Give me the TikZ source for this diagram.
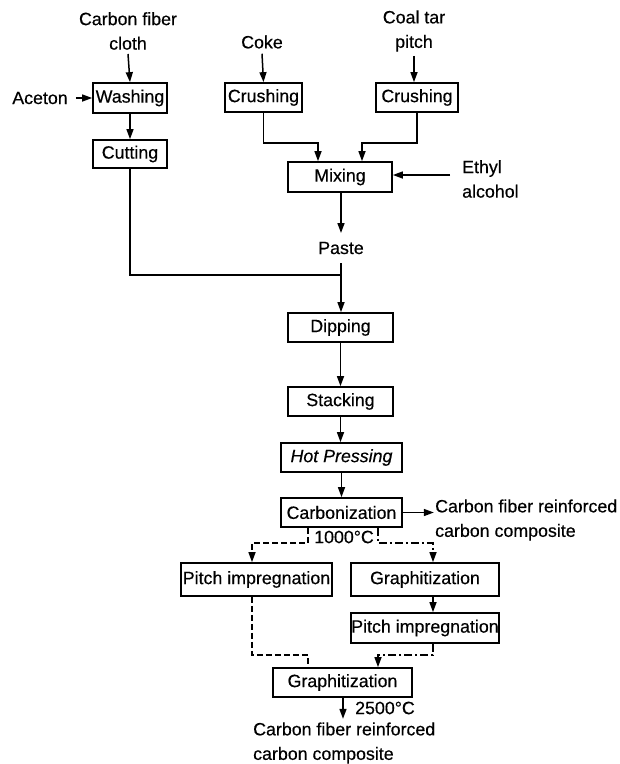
\documentclass[tikz,border=0pt]{standalone}
\usepackage{fontspec}
\setmainfont{Liberation Sans}[FakeBold=0.4]
\usetikzlibrary{arrows.meta}
\begin{document}
\begin{tikzpicture}[x=1pt,y=-1pt,
  every node/.style={font=\fontsize{17.8}{24.5}\selectfont},
  box/.style={draw,line width=1.7pt,inner sep=0pt,minimum width=#1},
  lbl/.style={inner sep=0pt},
  ln/.style={line width=1.5pt},
  arr/.style={ln,-{Triangle[length=10pt,width=7pt]}},
  dsh/.style={dash pattern=on 6pt off 3pt},
  dsd/.style={dash pattern=on 8pt off 3pt on 2pt off 3pt}]
\useasboundingbox (0,0) rectangle (620,764);
% sources
\node[lbl,align=center] (cf) at (128,31) {Carbon fiber\\cloth};
\node[lbl] (aceton) at (40,98) {Aceton};
\node[box=74,minimum height=30] (washing) at (130,98) {Washing};
\node[box=74,minimum height=28] (cutting) at (130,154) {Cutting};
\node[lbl] (coke) at (262,42) {Coke};
\node[box=77,minimum height=29] (crush1) at (263.5,97.5) {Crushing};
\node[lbl,align=center] (coal) at (414,31) {Coal tar\\pitch};
\node[box=82,minimum height=29] (crush2) at (417,97.5) {Crushing};
\node[box=104,minimum height=30] (mixing) at (340,177) {Mixing};
\node[lbl,align=left,anchor=west] (ethyl) at (462,179) {Ethyl\\alcohol};
\node[lbl] (paste) at (341,248) {Paste};
\node[box=105,minimum height=29] (dipping) at (340.5,327.5) {Dipping};
\node[box=105,minimum height=29] (stacking) at (340.5,401.5) {Stacking};
\node[box=121,minimum height=29] (hot) at (341.5,457.5) {\textit{Hot Pressing}};
\node[box=121,minimum height=29] (carb) at (341.5,512.5) {Carbonization};
\node[lbl,align=left,anchor=west] (cfrc1) at (435,520) {Carbon fiber reinforced\\carbon composite};
\node[lbl] (t1000) at (344,537) {1000°C};
\node[box=151,minimum height=33] (pitch1) at (256.5,579.5) {Pitch impregnation};
\node[box=148,minimum height=33] (graph1) at (425,579.5) {Graphitization\hspace{8pt}};
\node[box=146,minimum height=30] (pitch2) at (425,628) {Pitch impregnation};
\node[box=139,minimum height=29] (graph2) at (342.5,682.5) {Graphitization};
\node[lbl,anchor=west] (t2500) at (355,708) {2500°C};
\node[lbl,align=left,anchor=west] (cfrc2) at (253,743) {Carbon fiber reinforced\\carbon composite};
% connectors
\coordinate (m1) at (318,143);
\coordinate (m2) at (362,143);
\coordinate (j) at (341,275);
\coordinate (pa) at (341,233);
\coordinate (pb) at (341,263);
\coordinate (d1) at (308,543);
\coordinate (d2) at (252,543);
\coordinate (e1) at (378,543);
\coordinate (e2) at (433,543);
\coordinate (f1) at (433,655);
\coordinate (f2) at (378,655);
\coordinate (g1) at (252,655);
\coordinate (g2) at (308,655);
\coordinate (ea) at (450,175);
\draw[arr] (cf.south) ++(0,4) -- (washing.north);
\draw[arr] (aceton.east) ++(8,0) -- (washing.west);
\draw[arr] (washing) -- (cutting);
\draw[arr] (coke.south) ++(0,5) -- (crush1.north);
\draw[arr] (coal.south) ++(0,4) -- (crush2.north -| coal);
\draw[arr] (crush1.south) |- (m1) -- (m1 |- mixing.north);
\draw[arr] (crush2.south) |- (m2) -- (m2 |- mixing.north);
\draw[arr] (ea) -- (ea -| mixing.east);
\draw[arr] (mixing.south -| paste) -- (pa);
\draw[ln] (cutting.south) |- (j);
\draw[arr] (pb) -- (pb |- dipping.north);
\draw[arr] (dipping) -- (stacking);
\draw[arr] (stacking) -- (stacking |- hot.north);
\draw[arr] (hot) -- (carb);
\draw[arr] (carb.east) -- ++(31,0);
\draw[arr,dsh] (d1 |- carb.south) -- (d1) -- (d2) -- (d2 |- pitch1.north);
\draw[arr,dsd] (e1 |- carb.south) -- (e1) -- (e2) -- (e2 |- graph1.north);
\draw[arr] (e2 |- graph1.south) -- (e2 |- pitch2.north);
\draw[arr,dsd] (f1 |- pitch2.south) -- (f1) -- (f2) -- (f2 |- graph2.north);
\draw[ln,dsh] (g1 |- pitch1.south) -- (g1) -- (g2) -- (g2 |- graph2.north);
\draw[arr] (graph2.south) ++(0.5,0) -- ++(0,21);
\end{tikzpicture}
\end{document}
